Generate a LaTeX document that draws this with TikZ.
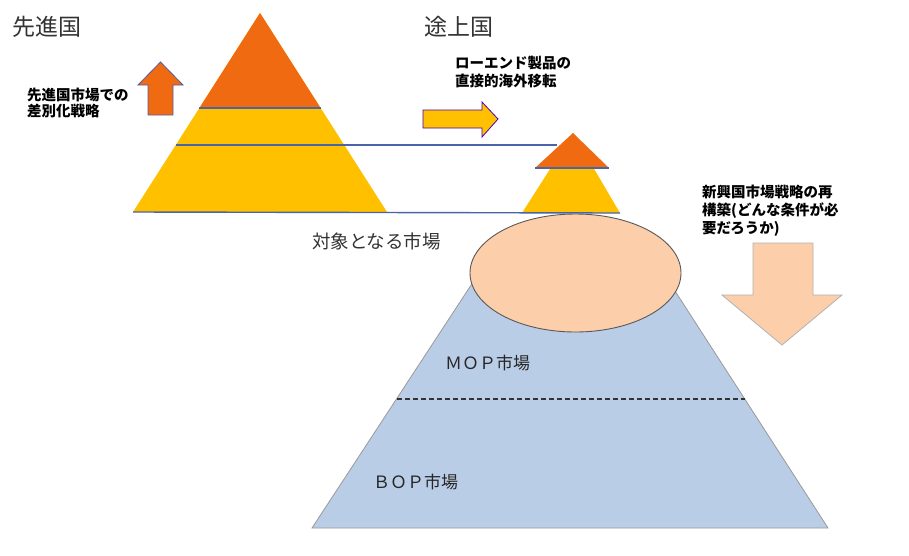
\documentclass[tikz,border=0pt]{standalone}
\usepackage{fontspec}
\usetikzlibrary{shapes.geometric}
\newfontfamily\jp{Noto Sans CJK JP}
\definecolor{orng}{HTML}{F06A12}
\definecolor{yell}{HTML}{FFC000}
\definecolor{peach}{HTML}{FCCEAA}
\definecolor{lblue}{HTML}{BACDE6}
\definecolor{layline}{HTML}{4A64A8}
\definecolor{txtgray}{HTML}{333333}
\tikzset{
  layer/.style={draw=layline, line width=1.4pt},
  title/.style={font=\jp\fontsize{23}{26}\selectfont, text=txtgray, inner sep=0pt},
  label/.style={font=\jp\bfseries\fontsize{14.5}{18}\selectfont, align=left, anchor=west, inner sep=0pt},
  mlabel/.style={font=\jp\fontsize{17}{20}\selectfont, text=black!85, inner sep=0pt, anchor=west},
  arrowshape/.style={draw=gray!70!blue, line width=0.8pt}
}
\begin{document}
\begin{tikzpicture}[x=1pt,y=-1pt]
\useasboundingbox[fill=white] (0,0) rectangle (909,555);

% big left pyramid
\coordinate (bA) at (260,13);
\coordinate (bL) at (133,212);
\coordinate (bR) at (387,212);
\coordinate (b1L) at (199.4,108);
\coordinate (b1R) at (320.6,108);
\coordinate (b2L) at (175.8,145);
\coordinate (b2R) at (344.2,145);
\fill[yell] (bA) -- (bL) -- (bR) -- cycle;
\fill[orng] (bA) -- (b1L) -- (b1R) -- cycle;

% small pyramid
\coordinate (sA) at (573,133);
\coordinate (sL) at (522,213);
\coordinate (sR) at (620,213);
\coordinate (s1L) at (535,168);
\coordinate (s1R) at (609,168);
\fill[yell] (sA) -- (sL) -- (sR) -- cycle;
\fill[orng] (sA) -- (s1L) -- (s1R) -- cycle;

% layer lines
\coordinate (mid) at (557,145);
\draw[layer] (b1L) -- (b1R);
\draw[layer] (b2L) -- (mid);
\draw[layer] (bL) -- (sR);
\draw[layer] (s1L) -- (s1R);

% big blue trapezoid
\coordinate (tTL) at (487.5,260);
\coordinate (tTR) at (655,260);
\coordinate (tBL) at (312,528);
\coordinate (tBR) at (828,528);
\coordinate (dL) at (397,399);
\coordinate (dR) at (745,399);
\draw[fill=lblue, draw=gray!80, line width=0.8pt] (tTL) -- (tBL) -- (tBR) -- (tTR) -- cycle;
\draw[dashed, line width=1.1pt, dash pattern=on 5pt off 3pt, black!80] (dL) -- (dR);

% ellipse
\node[ellipse, draw=black!65, line width=0.9pt, fill=peach, minimum width=211pt, minimum height=118pt, inner sep=0pt] (ell) at (575.5,273) {};

% up arrow (orange)
\draw[arrowshape, fill=orng] (160.5,62) -- (183,85) -- (173,85) -- (173,115) -- (148,115) -- (148,85) -- (138,85) -- cycle;
% right arrow (yellow)
\draw[arrowshape, draw=violet!60!blue, fill=yell] (423,110) -- (482,110) -- (482,102) -- (498,119) -- (482,137) -- (482,128) -- (423,128) -- cycle;
% down arrow (peach)
\draw[arrowshape, draw=gray!60, fill=peach] (753,243) -- (813,243) -- (813,295) -- (842,295) -- (782,345) -- (722,295) -- (753,295) -- cycle;

% texts
\node[title] (t1) at (47,27) {先進国};
\node[title] (t2) at (459,27) {途上国};
\node[title, font=\jp\fontsize{18.5}{22}\selectfont] (t3) at (376.5,241) {対象となる市場};
\node[label, font=\jp\bfseries\fontsize{14.5}{16}\selectfont] (l1) at (27,103) {先進国市場での\\差別化戦略};
\node[label] (l2) at (455,72.5) {ローエンド製品の\\直接的海外移転};
\node[label] (l3) at (702,211) {新興国市場戦略の再\\構築(どんな条件が必\\要だろうか)};
\node[mlabel] (mop) at (445,363) {ＭＯＰ市場};
\node[mlabel] (bop) at (373,482) {ＢＯＰ市場};
\end{tikzpicture}
\end{document}
